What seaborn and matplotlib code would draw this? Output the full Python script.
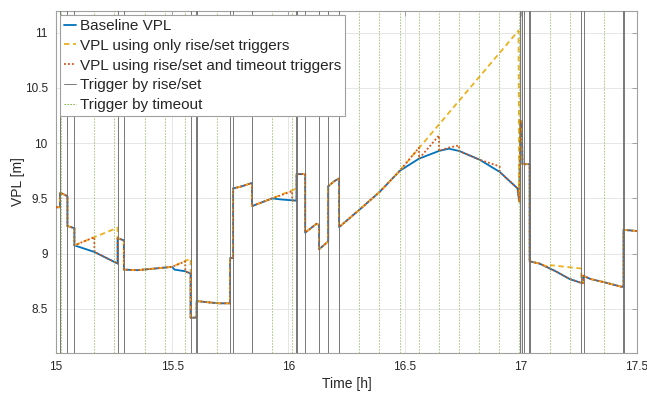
import matplotlib
matplotlib.use("Agg")
import matplotlib.pyplot as plt
import seaborn as sns
import pandas as pd
from matplotlib.lines import Line2D

# Baseline protection level (time in hours, VPL in metres)
t_base = [15.000, 15.017, 15.017, 15.030, 15.049, 15.049, 15.079, 15.079, 15.165, 15.265,
          15.265, 15.292, 15.292, 15.35, 15.40, 15.45, 15.499, 15.51, 15.556, 15.579,
          15.579, 15.605, 15.605, 15.65, 15.70, 15.749, 15.749, 15.762, 15.762, 15.80,
          15.843, 15.843, 15.88, 15.930, 15.97, 16.035, 16.035, 16.072, 16.072, 16.121,
          16.132, 16.132, 16.171, 16.171, 16.20, 16.218, 16.218, 16.307, 16.393, 16.479,
          16.562, 16.648, 16.69, 16.734, 16.823, 16.909, 16.986, 16.993, 16.998, 17.004,
          17.007, 17.038, 17.038, 17.08, 17.15, 17.21, 17.26, 17.268, 17.268, 17.30,
          17.36, 17.433, 17.442, 17.442, 17.5]
v_base = [9.42, 9.42, 9.55, 9.54, 9.52, 9.25, 9.23, 9.075, 9.015, 8.91,
          9.14, 9.12, 8.855, 8.85, 8.86, 8.87, 8.88, 8.855, 8.84, 8.82,
          8.42, 8.42, 8.57, 8.56, 8.55, 8.55, 8.96, 8.96, 9.59, 9.61,
          9.64, 9.43, 9.46, 9.50, 9.49, 9.48, 9.72, 9.72, 9.19, 9.27,
          9.26, 9.04, 9.11, 9.61, 9.66, 9.68, 9.24, 9.40, 9.56, 9.75,
          9.86, 9.93, 9.95, 9.93, 9.85, 9.74, 9.59, 9.47, 10.20, 10.20,
          9.81, 9.81, 8.93, 8.91, 8.84, 8.77, 8.735, 8.735, 8.80, 8.77,
          8.74, 8.70, 8.70, 9.215, 9.205]

# VPL with rise/set triggers only
t_rs = [15.000, 15.017, 15.017, 15.030, 15.049, 15.049, 15.079, 15.079, 15.265, 15.265,
        15.292, 15.292, 15.35, 15.40, 15.45, 15.499, 15.579, 15.579, 15.605, 15.605,
        15.65, 15.70, 15.749, 15.749, 15.762, 15.762, 15.80, 15.843, 15.843, 15.88,
        15.930, 16.035, 16.035, 16.072, 16.072, 16.121, 16.132, 16.132, 16.171, 16.171,
        16.20, 16.218, 16.218, 16.307, 16.393, 16.479, 16.990, 16.993, 16.998, 17.004,
        17.007, 17.038, 17.038, 17.08, 17.124, 17.13, 17.26, 17.26, 17.268, 17.268,
        17.30, 17.36, 17.433, 17.442, 17.442, 17.5]
v_rs = [9.42, 9.42, 9.55, 9.54, 9.52, 9.25, 9.23, 9.075, 9.235, 9.14,
        9.12, 8.855, 8.85, 8.86, 8.87, 8.88, 8.955, 8.42, 8.42, 8.57,
        8.56, 8.55, 8.55, 8.96, 8.96, 9.59, 9.61, 9.64, 9.43, 9.46,
        9.50, 9.59, 9.72, 9.72, 9.19, 9.27, 9.26, 9.04, 9.11, 9.61,
        9.66, 9.68, 9.24, 9.40, 9.56, 9.75, 11.02, 9.47, 10.20, 10.20,
        9.81, 9.81, 8.93, 8.91, 8.875, 8.895, 8.865, 8.735, 8.735, 8.80,
        8.77, 8.74, 8.70, 8.70, 9.215, 9.205]

# VPL with rise/set and timeout triggers
t_rst = [15.000, 15.017, 15.017, 15.030, 15.049, 15.049, 15.079, 15.079, 15.165, 15.165,
         15.265, 15.265, 15.292, 15.292, 15.35, 15.40, 15.45, 15.499, 15.556, 15.556,
         15.579, 15.579, 15.605, 15.605, 15.65, 15.70, 15.749, 15.749, 15.762, 15.762,
         15.80, 15.843, 15.843, 15.88, 15.930, 16.016, 16.016, 16.035, 16.035, 16.072,
         16.072, 16.121, 16.132, 16.132, 16.171, 16.171, 16.20, 16.218, 16.218, 16.307,
         16.393, 16.479, 16.562, 16.562, 16.648, 16.648, 16.69, 16.734, 16.734, 16.823,
         16.909, 16.909, 16.986, 16.993, 16.998, 17.004, 17.007, 17.038, 17.038, 17.08,
         17.15, 17.21, 17.26, 17.268, 17.268, 17.30, 17.36, 17.433, 17.442, 17.442,
         17.5]
v_rst = [9.42, 9.42, 9.55, 9.54, 9.52, 9.25, 9.23, 9.075, 9.149, 9.015,
         8.91, 9.14, 9.12, 8.855, 8.85, 8.86, 8.87, 8.88, 8.93, 8.84,
         8.82, 8.42, 8.42, 8.57, 8.56, 8.55, 8.55, 8.96, 8.96, 9.59,
         9.61, 9.64, 9.43, 9.46, 9.50, 9.565, 9.48, 9.48, 9.72, 9.72,
         9.19, 9.27, 9.26, 9.04, 9.11, 9.61, 9.66, 9.68, 9.24, 9.40,
         9.56, 9.75, 9.96, 9.86, 10.07, 9.93, 9.96, 9.98, 9.93, 9.85,
         9.79, 9.74, 9.59, 9.47, 10.20, 10.20, 9.81, 9.81, 8.93, 8.91,
         8.84, 8.77, 8.735, 8.735, 8.80, 8.77, 8.74, 8.70, 8.70, 9.215,
         9.205]

# Trigger instants (hours)
trig_riseset = [15.017, 15.049, 15.079, 15.265, 15.292, 15.579, 15.603, 15.607, 15.749,
                15.762, 15.843, 16.033, 16.037, 16.072, 16.132, 16.171, 16.218, 16.996,
                17.003, 17.012, 17.036, 17.040, 17.260, 17.270, 17.440, 17.444]
trig_timeout = [15.022, 15.165, 15.251, 15.383, 15.469, 15.556, 15.693, 15.930, 16.016,
                16.304, 16.390, 16.478, 16.562, 16.648, 16.734, 16.822, 16.908, 16.992,
                17.127, 17.213, 17.357]

x_ticks = [15, 15.5, 16, 16.5, 17, 17.5]
x_ticklabels = ["15", "15.5", "16", "16.5", "17", "17.5"]
y_ticks = [8.5, 9, 9.5, 10, 10.5, 11]
y_ticklabels = ["8.5", "9", "9.5", "10", "10.5", "11"]

sns.set_style("white")
plt.rcParams["font.family"] = ["Liberation Sans", "DejaVu Sans"]

fig = plt.figure(figsize=(6.47, 3.96), dpi=100)
ax = fig.add_axes([0.0866, 0.1086, 0.898, 0.8644])

c_blue, c_yellow, c_red = "#0072BD", "#EDB120", "#D95319"
c_grey, c_green = "#6e6e6e", "#77AC30"

sns.lineplot(data=pd.DataFrame({"t": t_base, "v": v_base}), x="t", y="v", ax=ax,
             estimator=None, sort=False, color=c_blue, lw=1.3, zorder=3)
sns.lineplot(data=pd.DataFrame({"t": t_rs, "v": v_rs}), x="t", y="v", ax=ax,
             estimator=None, sort=False, color=c_yellow, lw=1.3, ls=(0, (3, 2)), zorder=4)
sns.lineplot(data=pd.DataFrame({"t": t_rst, "v": v_rst}), x="t", y="v", ax=ax,
             estimator=None, sort=False, color=c_red, lw=1.3, ls=(0, (1, 1.2)), zorder=5)

for t in trig_riseset:
    ax.axvline(t, color=c_grey, lw=0.65, zorder=6)
for t in trig_timeout:
    ax.axvline(t, color=c_green, lw=0.6, ls=(0, (2, 1.5)), alpha=0.7, zorder=6)

ax.set_xlim(15, 17.5)
ax.set_ylim(8.1, 11.2)
ax.set_xticks(x_ticks)
ax.set_xticklabels(x_ticklabels)
ax.set_yticks(y_ticks)
ax.set_yticklabels(y_ticklabels)
ax.grid(True, color="#e6e6e6", lw=0.7)
ax.set_axisbelow(True)
ax.tick_params(direction="in", top=True, right=True, length=3.5, width=0.7,
               color="#a0a0a0", labelsize=8.5, labelcolor="#262626", pad=6)
for s in ax.spines.values():
    s.set_color("#a0a0a0")
    s.set_linewidth(0.8)
ax.set_xlabel("Time [h]", fontsize=10, color="#262626", labelpad=3)
ax.set_ylabel("VPL [m]", fontsize=10, color="#262626", labelpad=0)

handles = [
    Line2D([], [], color=c_blue, lw=1.3),
    Line2D([], [], color=c_yellow, lw=1.3, ls=(0, (3, 2))),
    Line2D([], [], color=c_red, lw=1.3, ls=(0, (1, 1.2))),
    Line2D([], [], color=c_grey, lw=0.65),
    Line2D([], [], color=c_green, lw=0.6, ls=(0, (2, 1.5))),
]
labels = ["Baseline VPL", "VPL using only rise/set triggers",
          "VPL using rise/set and timeout triggers", "Trigger by rise/set",
          "Trigger by timeout"]
leg = ax.legend(handles, labels, loc="upper left", bbox_to_anchor=(0.007, 0.987),
                fontsize=11, frameon=True, fancybox=False, framealpha=1,
                edgecolor="#a0a0a0", borderpad=0.25, labelspacing=0.38,
                handlelength=0.8, handletextpad=0.25, borderaxespad=0)
leg.get_frame().set_linewidth(0.8)
leg.set_zorder(10)

fig.savefig("out.png", dpi=100)
